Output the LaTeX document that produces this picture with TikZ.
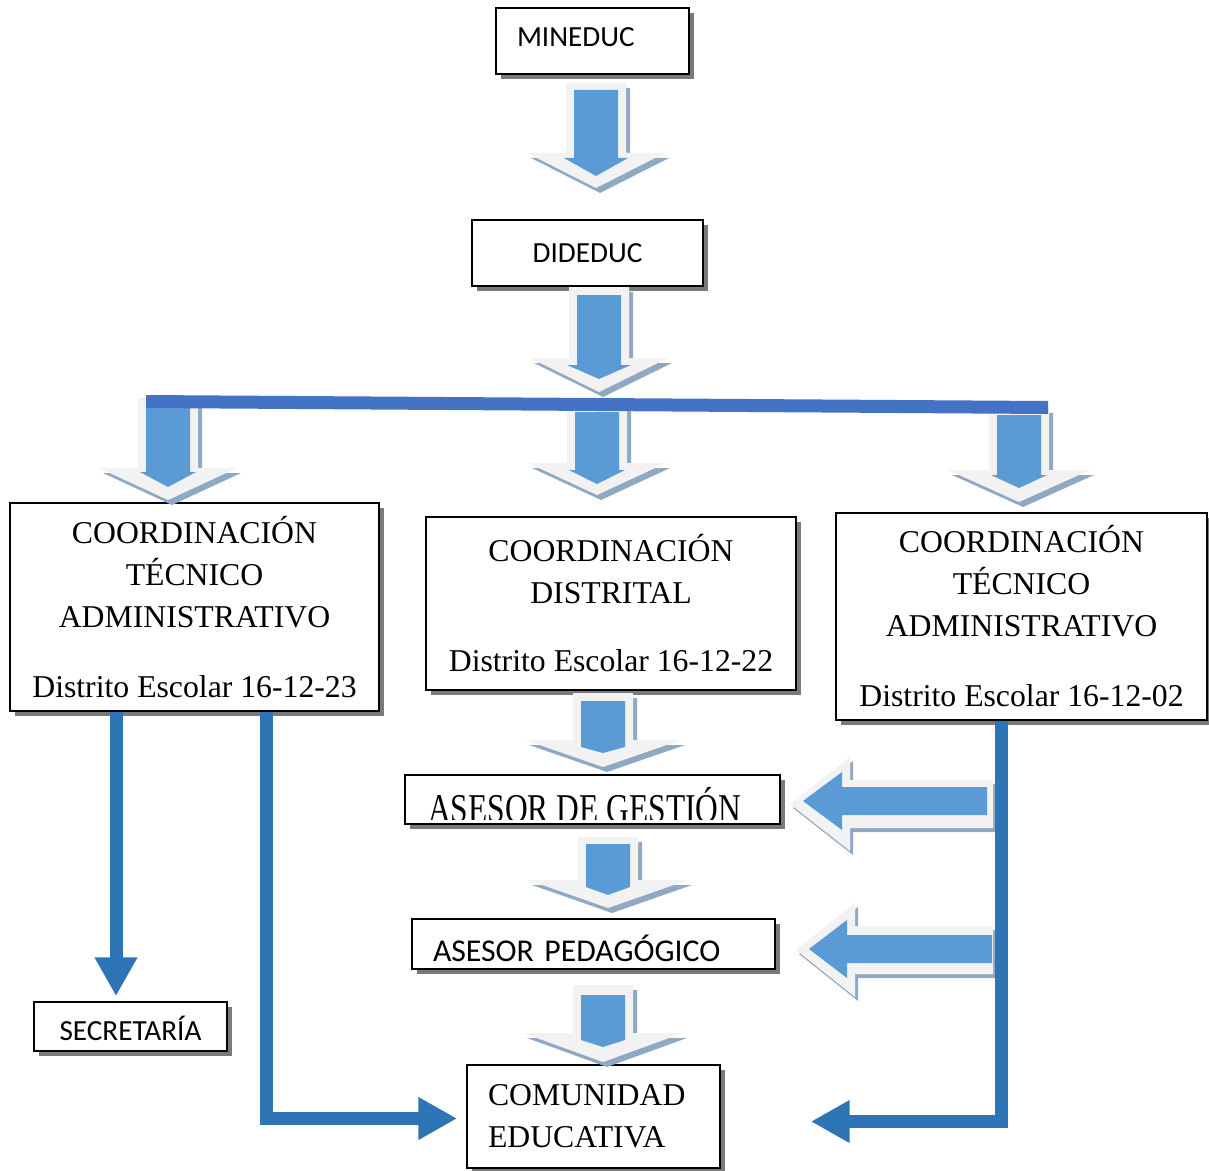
\documentclass[tikz,border=0pt]{standalone}
\usepackage{fontspec}
\setmainfont{Liberation Serif}
\newfontfamily\calfont{Carlito}
\usetikzlibrary{shadows,arrows.meta,calc}
\definecolor{bluefill}{HTML}{5B9BD5}
\definecolor{lightedge}{HTML}{F2F2F2}
\definecolor{arrshadow}{HTML}{8FA9C3}
\definecolor{barblue}{HTML}{4472C4}
\definecolor{connblue}{HTML}{2E75B6}

% down block arrow: cx, outer top, outer head start, outer tip, outer head half,
% inner top, inner head start, inner tip, inner head half
\newcommand\bdown[9]{%
  \fill[arrshadow,shift={(4,5)}] ({#1-30},#2) -- ({#1+30},#2) -- ({#1+30},#3) -- ({#1+#5},#3) -- (#1,#4) -- ({#1-#5},#3) -- ({#1-30},#3) -- cycle;
  \fill[lightedge] ({#1-30},#2) -- ({#1+30},#2) -- ({#1+30},#3) -- ({#1+#5},#3) -- (#1,#4) -- ({#1-#5},#3) -- ({#1-30},#3) -- cycle;
  \fill[bluefill] ({#1-22},#6) -- ({#1+22},#6) -- ({#1+22},#7) -- ({#1+#9},#7) -- (#1,#8) -- ({#1-#9},#7) -- ({#1-22},#7) -- cycle;
}
% left block arrow: outer cy, outer right, outer head back, outer tip, outer head half,
% inner cy, inner right, inner head back, inner tip ; inner head half fixed 29
\newcommand\bleft[9]{%
  \fill[arrshadow,shift={(3,4)}] (#2,{#1-24}) -- (#2,{#1+24}) -- (#3,{#1+24}) -- (#3,{#1+#5}) -- (#4,#1) -- (#3,{#1-#5}) -- (#3,{#1-24}) -- cycle;
  \fill[lightedge] (#2,{#1-24}) -- (#2,{#1+24}) -- (#3,{#1+24}) -- (#3,{#1+#5}) -- (#4,#1) -- (#3,{#1-#5}) -- (#3,{#1-24}) -- cycle;
  \fill[bluefill] (#7,{#6-14}) -- (#7,{#6+14}) -- (#8,{#6+14}) -- (#8,{#6+29}) -- (#9,#6) -- (#8,{#6-29}) -- (#8,{#6-14}) -- cycle;
}

\tikzset{
  boxnode/.style={draw=black, line width=1.3pt, fill=white, inner sep=0pt,
    drop shadow={shadow xshift=4pt, shadow yshift=-3.5pt, fill=black!52, opacity=1}},
  serif/.style={font=\fontsize{23.8pt}{31.5pt}\selectfont},
  sanstxt/.style={font=\calfont\fontsize{21.9pt}{26pt}\selectfont},
  sansbig/.style={font=\calfont\fontsize{23.8pt}{28pt}\selectfont},
  conn/.style={draw=connblue, line width=9.75pt, line join=miter,
    -{Triangle[length=29pt,width=30pt]}}
}

\begin{document}
\begin{tikzpicture}[x=0.75pt,y=-0.75pt]
\useasboundingbox (0,0) rectangle (1209,1170);
\fill[white] (0,0) rectangle (1209,1170);

% boxes
\node[boxnode, sanstxt, minimum width=144.75pt, minimum height=49.5pt, text width=113.25pt, align=left] (min) at (592.5,41) {\raisebox{3pt}[\height][\depth]{MINEDUC}};
\node[boxnode, sanstxt, minimum width=173.25pt, minimum height=49.5pt, align=center] (did) at (587.5,253) {DIDEDUC};
\node[boxnode, serif, minimum width=276.75pt, minimum height=156pt, align=center] (lc) at (194.5,607)
  {COORDINACIÓN\\TÉCNICO\\ADMINISTRATIVO\\[21pt]Distrito Escolar 16-12-23};
\node[boxnode, serif, minimum width=277.5pt, minimum height=129.75pt, align=center] (mc) at (611,603.5)
  {COORDINACIÓN\\DISTRITAL\\[19.5pt]Distrito Escolar 16-12-22};
\node[boxnode, serif, minimum width=278.25pt, minimum height=155.25pt, align=center] (rc) at (1021.5,616.5)
  {COORDINACIÓN\\TÉCNICO\\ADMINISTRATIVO\\[21pt]Distrito Escolar 16-12-02};
\node[boxnode, minimum width=281.25pt, minimum height=36.75pt] (ag) at (592.5,799.5) {};
\begin{scope}
  \clip (406,776) rectangle (779,819);
  \node[font=\fontsize{23.6pt}{28pt}\selectfont, anchor=base west, inner sep=0pt] (agt) at (428,822) {\scalebox{1}[1.3]{ASESOR DE GESTIÓN}};
\end{scope}
\node[boxnode, sansbig, minimum width=272.25pt, minimum height=37.5pt, text width=240.75pt, align=left] (ap) at (593.5,944) {\raisebox{-3pt}[\height][\depth]{ASESOR PEDAGÓGICO}};
\node[boxnode, sanstxt, minimum width=144.75pt, minimum height=36.75pt, align=center] (sec) at (130.5,1026.5) {\raisebox{-1.5pt}[\height][\depth]{SECRETARÍA}};
\node[boxnode, serif, minimum width=189.75pt, minimum height=77.25pt, text width=158.25pt, align=left] (com) at (593.5,1116.5)
  {COMUNIDAD\\EDUCATIVA};

% block arrows
\bdown{596}{83}{153}{188}{69}{90}{158}{176}{32}
\bdown{599}{287}{358}{392}{69}{295}{365}{379}{32}
\bdown{168}{398}{468}{500}{69}{405}{472}{487}{28}
\bdown{597}{404}{463}{495}{69}{412}{470}{484}{28}
\bdown{1019}{408}{470}{502}{71}{415}{475}{488}{28}
\bdown{603}{693}{740}{767}{78}{701}{747}{753}{22}
\bdown{608}{837}{880}{908}{80}{844}{887}{895}{22}
\bdown{603}{985}{1033}{1062}{80}{995}{1040}{1047}{22}
\bleft{804}{993}{850}{790}{47}{801}{987}{842}{803}
\bleft{950}{993}{855}{796}{47}{949}{992}{847}{809}

% horizontal bar
\fill[barblue] (146,395) -- (1048,401) -- (1048,414) -- (146,408) -- cycle;

% connectors
\draw[conn] ($(lc.south)+(-78.5,0)$) -- ($(sec.north)+(-14.5,-5)$);
\draw[conn] ($(lc.south)+(72,0)$) |- ($(com.west)+(-9,2)$);
\draw[conn] ($(rc.south)+(-20.5,0)$) |- ($(com.east)+(90,5)$);
\end{tikzpicture}
\end{document}
